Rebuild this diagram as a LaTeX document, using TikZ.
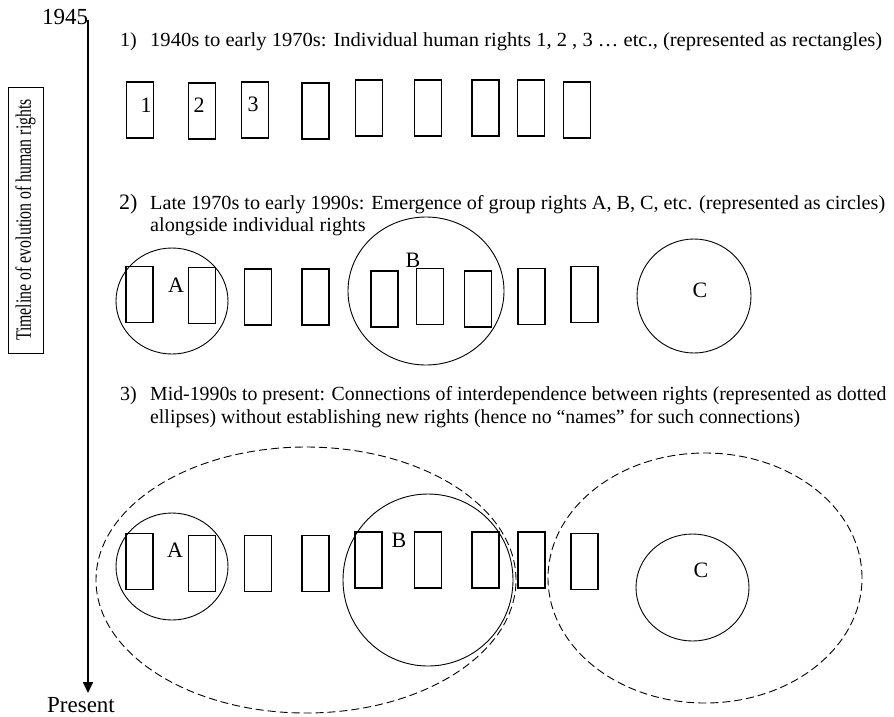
\documentclass[tikz,border=0pt]{standalone}
\usepackage{fontspec}
\setmainfont{Liberation Serif}
\usetikzlibrary{shapes.geometric,arrows.meta}
\begin{document}
\begin{tikzpicture}[x=1pt,y=-1pt,
 rbox/.style={draw,line width=1.1pt,minimum width=27pt,minimum height=56pt,inner sep=0pt},
 grp/.style={draw,ellipse,line width=0.9pt,inner sep=0pt},
 conn/.style={grp,dash pattern=on 8pt off 4pt},
 txt/.style={font=\fontsize{20}{22}\selectfont,inner sep=0pt,anchor=west},
 lbl/.style={font=\fontsize{22}{22}\selectfont,inner sep=0pt},
 big/.style={font=\fontsize{23}{23}\selectfont,inner sep=0pt}]
\useasboundingbox (0,0) rectangle (894,716);
% timeline
\node[big] (y1945) at (65,17) {1945};
\node[big] (present) at (81,705) {Present};
\coordinate (tltop) at (88,20);
\coordinate (tlbot) at (88,693);
\draw[line width=1.6pt,-{Triangle[length=11pt,width=10pt]}] (tltop) -- (tlbot);
\node[draw,line width=0.8pt,rotate=90,minimum width=266pt,minimum height=35pt,inner sep=0pt,font=\fontsize{22}{22}\selectfont] (tlbox) at (25.5,220) {\scalebox{0.72}[1]{Timeline of evolution of human rights}};
% row 1
\node[txt] (n1) at (120,42) {1)};
\node[txt] (t1) at (150,42) {\scalebox{1.028}[1]{1940s to early 1970s: Individual human rights 1, 2 , 3 … etc., (represented as rectangles)}};
\node[rbox] (p1) at (140,110) {};
\node[rbox] (p2) at (202,111) {};
\node[rbox] (p3) at (255,110) {};
\node[rbox] (p4) at (315.5,111) {};
\node[rbox] (p5) at (369,108) {};
\node[rbox] (p6) at (428,108) {};
\node[rbox] (p7) at (485.5,108) {};
\node[rbox] (p8) at (531,108) {};
\node[rbox] (p9) at (577,110) {};
\node[lbl] (l1) at (146,105) {1};
\node[lbl] (l2) at (199,105) {2};
\node[lbl] (l3) at (253,104) {3};
% row 2
\node[txt,font=\fontsize{22}{22}\selectfont] (n2) at (119,204) {2)};
\node[txt] (t2a) at (150,205) {\scalebox{1.01}[1]{Late 1970s to early 1990s: Emergence of group rights A, B, C, etc. (represented as circles)}};
\node[txt] (t2b) at (150,227) {\scalebox{1.01}[1]{alongside individual rights}};
\node[rbox] (q1) at (139.5,294.5) {};
\node[rbox] (q2) at (202,295.5) {};
\node[rbox] (q3) at (258,297) {};
\node[rbox] (q4) at (315.5,297) {};
\node[rbox] (q5) at (384.5,299) {};
\node[rbox] (q6) at (430,296.5) {};
\node[rbox] (q7) at (478,299) {};
\node[rbox] (q8) at (531.5,296.5) {};
\node[rbox] (q9) at (584.5,294.5) {};
\node[grp,minimum width=112pt,minimum height=106pt] (gA2) at (172,301) {};
\node[grp,minimum width=156pt,minimum height=148pt] (gB2) at (426,291) {};
\node[grp,minimum width=114pt,minimum height=114pt] (gC2) at (694,296) {};
\node[lbl] (lA2) at (176,285) {A};
\node[lbl] (lB2) at (413,260) {B};
\node[lbl] (lC2) at (700,290) {C};
% row 3
\node[txt] (n3) at (120,396) {3)};
\node[txt] (t3a) at (150,396) {\scalebox{0.99}[1]{Mid-1990s to present: Connections of interdependence between rights (represented as dotted}};
\node[txt] (t3b) at (150,419) {\scalebox{0.99}[1]{ellipses) without establishing new rights (hence no “names” for such connections)}};
\node[rbox] (s1) at (139.5,561.5) {};
\node[rbox] (s2) at (202,563.5) {};
\node[rbox] (s3) at (258,563.5) {};
\node[rbox] (s4) at (315.5,563.5) {};
\node[rbox] (s5) at (368.5,560) {};
\node[rbox] (s6) at (428,560) {};
\node[rbox] (s7) at (485.5,560) {};
\node[rbox] (s8) at (531.5,560) {};
\node[rbox] (s9) at (584.5,561.5) {};
\node[grp,minimum width=112pt,minimum height=107pt] (gA3) at (172,566.5) {};
\node[grp,minimum width=170pt,minimum height=172pt] (gB3) at (428,580) {};
\node[grp,minimum width=113pt,minimum height=107pt] (gC3) at (692.5,587.5) {};
\node[conn,minimum width=420pt,minimum height=266pt] (e1) at (306,580) {};
\node[conn,minimum width=314pt,minimum height=250pt] (e2) at (705,578) {};
\node[lbl] (lA3) at (175,550) {A};
\node[lbl] (lB3) at (399,540) {B};
\node[lbl] (lC3) at (701,570) {C};
\end{tikzpicture}
\end{document}
